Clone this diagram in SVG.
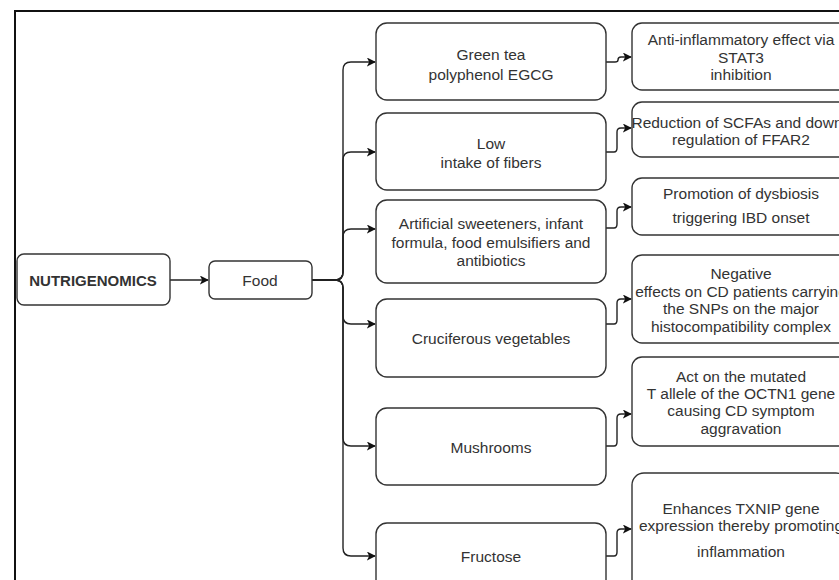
<svg xmlns="http://www.w3.org/2000/svg" width="839" height="580" viewBox="0 0 839 580">
<style>
.box{fill:#fff;stroke:#333;stroke-width:1.4}
.t{font-family:"Liberation Sans",Arial,sans-serif;font-size:15.5px;fill:#333;text-anchor:middle}
.b{font-weight:bold;font-size:15px}
.c{fill:none;stroke:#222;stroke-width:1.4}
</style>
<defs>
<marker id="ah" viewBox="0 0 10 10" refX="9" refY="5" markerWidth="9" markerHeight="9" markerUnits="userSpaceOnUse" orient="auto">
<path d="M0,0 L10,5 L0,10 L2.5,5 z" fill="#111"/>
</marker>
</defs>
<rect width="839" height="580" fill="#fff"/>
<path d="M15,580 V11 H839" fill="none" stroke="#111" stroke-width="2"/>

<g id="connectors">
<path class="c" d="M170,280 H208" marker-end="url(#ah)"/>
<path class="c" d="M312,280 H335 Q343,280 343,272 V70 Q343,62 351,62 H375" marker-end="url(#ah)"/>
<path class="c" d="M312,280 H335 Q343,280 343,272 V160 Q343,152 351,152 H375" marker-end="url(#ah)"/>
<path class="c" d="M312,280 H335 Q343,280 343,272 V237 Q343,229 351,229 H375" marker-end="url(#ah)"/>
<path class="c" d="M312,280 H335 Q343,280 343,288 V316 Q343,324 351,324 H375" marker-end="url(#ah)"/>
<path class="c" d="M312,280 H335 Q343,280 343,288 V438 Q343,446 351,446 H375" marker-end="url(#ah)"/>
<path class="c" d="M312,280 H335 Q343,280 343,288 V548 Q343,556 351,556 H375" marker-end="url(#ah)"/>
<path class="c" d="M606,62 H615 Q618,62 618,60 Q618,57 621,57 H631" marker-end="url(#ah)"/>
<path class="c" d="M606,152 H614 Q617,152 617,148 V132 Q617,128 621,128 H631" marker-end="url(#ah)"/>
<path class="c" d="M606,228 H614 Q617,228 617,224 V211 Q617,207 621,207 H631" marker-end="url(#ah)"/>
<path class="c" d="M606,324 H614 Q617,324 617,320 V303 Q617,299 621,299 H631" marker-end="url(#ah)"/>
<path class="c" d="M606,446 H614 Q617,446 617,442 V418 Q617,414 621,414 H631" marker-end="url(#ah)"/>
<path class="c" d="M606,556 H614 Q617,556 617,552 V533 Q617,529 621,529 H631" marker-end="url(#ah)"/>
</g>

<g id="nutrigenomics">
<rect class="box" x="17" y="254" width="153" height="51" rx="7"/>
<text class="t b" x="93" y="286">NUTRIGENOMICS</text>
</g>
<g id="food">
<rect class="box" x="209" y="261" width="103" height="38" rx="6"/>
<text class="t" x="260" y="286">Food</text>
</g>

<g id="green-tea">
<rect class="box" x="376" y="23" width="230" height="77" rx="11"/>
<text class="t" x="491" y="60">Green tea</text>
<text class="t" x="491" y="80">polyphenol EGCG</text>
</g>
<g id="low-fiber">
<rect class="box" x="376" y="113" width="230" height="77" rx="11"/>
<text class="t" x="491" y="149">Low</text>
<text class="t" x="491" y="168">intake of fibers</text>
</g>
<g id="artificial">
<rect class="box" x="376" y="200" width="230" height="83" rx="11"/>
<text class="t" x="491" y="229">Artificial sweeteners, infant</text>
<text class="t" x="491" y="248">formula, food emulsifiers and</text>
<text class="t" x="491" y="266">antibiotics</text>
</g>
<g id="cruciferous">
<rect class="box" x="376" y="299" width="230" height="78" rx="11"/>
<text class="t" x="491" y="344">Cruciferous vegetables</text>
</g>
<g id="mushrooms">
<rect class="box" x="376" y="408" width="230" height="77" rx="11"/>
<text class="t" x="491" y="453">Mushrooms</text>
</g>
<g id="fructose">
<rect class="box" x="376" y="523" width="230" height="77" rx="11"/>
<text class="t" x="491" y="562">Fructose</text>
</g>

<g id="anti-inflammatory">
<rect class="box" x="632" y="23" width="216" height="67" rx="10"/>
<text class="t" x="741" y="45">Anti-inflammatory effect via</text>
<text class="t" x="741" y="63">STAT3</text>
<text class="t" x="741" y="80">inhibition</text>
</g>
<g id="reduction">
<rect class="box" x="632" y="102" width="216" height="55" rx="10"/>
<text class="t" x="737" y="128">Reduction of SCFAs and down</text>
<text class="t" x="741" y="145">regulation of FFAR2</text>
</g>
<g id="dysbiosis">
<rect class="box" x="632" y="178" width="216" height="57" rx="10"/>
<text class="t" x="741" y="199">Promotion of dysbiosis</text>
<text class="t" x="741" y="223">triggering IBD onset</text>
</g>
<g id="negative">
<rect class="box" x="632" y="255" width="216" height="88" rx="10"/>
<text class="t" x="741" y="279">Negative</text>
<text class="t" x="741" y="297">effects on CD patients carrying</text>
<text class="t" x="741" y="314">the SNPs on the major</text>
<text class="t" x="741" y="332">histocompatibility complex</text>
</g>
<g id="octn1">
<rect class="box" x="632" y="357" width="216" height="89" rx="10"/>
<text class="t" x="741" y="382">Act on the mutated</text>
<text class="t" x="741" y="399">T allele of the OCTN1 gene</text>
<text class="t" x="741" y="416">causing CD symptom</text>
<text class="t" x="741" y="434">aggravation</text>
</g>
<g id="txnip">
<rect class="box" x="632" y="473" width="216" height="120" rx="12"/>
<text class="t" x="741" y="514">Enhances TXNIP gene</text>
<text class="t" x="741" y="531">expression thereby promoting</text>
<text class="t" x="741" y="557">inflammation</text>
</g>
</svg>
